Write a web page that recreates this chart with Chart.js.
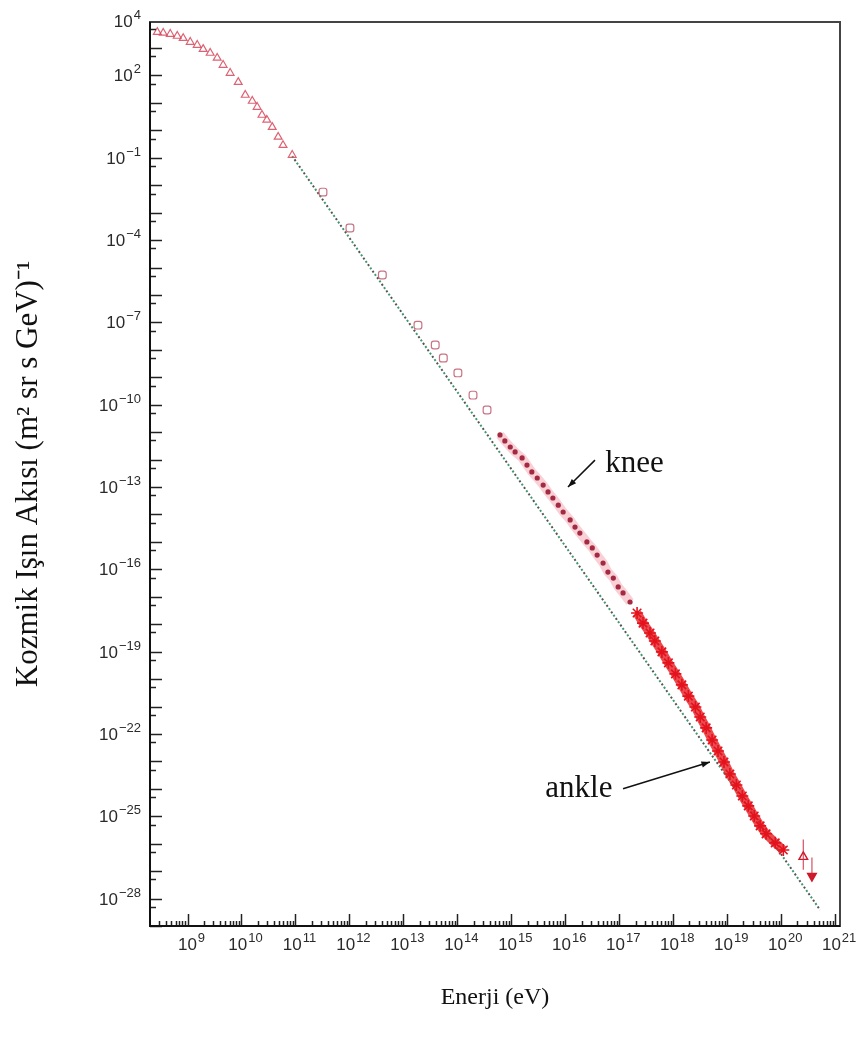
<!DOCTYPE html>
<html>
<head>
<meta charset="utf-8">
<script src="https://cdn.jsdelivr.net/npm/chart.js@4.4.1/dist/chart.umd.min.js"></script>
<style>
  html, body { margin: 0; padding: 0; background: #fff; }
  #wrap { width: 864px; height: 1046px; position: relative; }
</style>
</head>
<body>
<div id="wrap"><canvas id="spectrum"></canvas></div>
<script>
// values are log10(E / eV) and log10(flux / (m^2 sr s GeV)^-1)
const lowLogE = [8.44, 8.55, 8.68, 8.81, 8.92, 9.05, 9.18, 9.29, 9.42, 9.55, 9.66, 9.79, 9.94, 10.07, 10.20, 10.29, 10.38, 10.47, 10.57, 10.68, 10.77, 10.94];
const lowLogF = [3.58, 3.55, 3.51, 3.44, 3.36, 3.22, 3.11, 2.96, 2.82, 2.64, 2.38, 2.09, 1.76, 1.29, 1.07, 0.85, 0.56, 0.38, 0.12, -0.24, -0.54, -0.90];

const midLogE = [11.51, 12.01, 12.61, 13.27, 13.59, 13.74, 14.01, 14.29, 14.55];
const midLogF = [-2.25, -3.56, -5.27, -7.10, -7.82, -8.30, -8.84, -9.65, -10.19];

const kneeLogE = [14.79, 14.88, 14.98, 15.07, 15.20, 15.29, 15.38, 15.48, 15.59, 15.68, 15.77, 15.87, 15.96, 16.09, 16.18, 16.27, 16.40, 16.50, 16.59, 16.70, 16.79, 16.89, 16.98, 17.07, 17.20];
const kneeLogF = [-11.10, -11.32, -11.54, -11.72, -11.94, -12.20, -12.45, -12.67, -12.93, -13.18, -13.40, -13.66, -13.91, -14.20, -14.46, -14.68, -15.00, -15.22, -15.48, -15.77, -16.10, -16.32, -16.64, -16.86, -17.19];

const highLogE = [17.33, 17.44, 17.57, 17.66, 17.79, 17.91, 18.04, 18.16, 18.28, 18.41, 18.50, 18.61, 18.72, 18.83, 18.94, 19.05, 19.17, 19.28, 19.39, 19.50, 19.61, 19.72, 19.89, 20.04];
const highLogF = [-17.59, -17.96, -18.32, -18.61, -19.01, -19.41, -19.81, -20.21, -20.62, -21.02, -21.38, -21.78, -22.22, -22.62, -23.02, -23.46, -23.86, -24.26, -24.62, -24.99, -25.35, -25.64, -25.97, -26.23];

const tailLogE = [20.41, 20.57];
const tailLogF = [-26.48, -27.18];
const tailErrLo = [-26.95, -27.25];
const tailErrHi = [-25.85, -26.50];

// dotted power-law reference line (end points)
const fitLogE = [10.94, 20.72];
const fitLogF = [-0.94, -28.41];

const xTickExps = [9, 10, 11, 12, 13, 14, 15, 16, 17, 18, 19, 20, 21];
const yTickExps = [4, 2, -1, -4, -7, -10, -13, -16, -19, -22, -25, -28];

const xRange = [8.305, 21.09];
const yRange = [-29.0, 3.95];

function pts(le, lf) {
  return le.map(function (e, i) { return { x: Math.pow(10, e), y: Math.pow(10, lf[i]) }; });
}

const sansFont = "'Liberation Sans', Arial, sans-serif";
const serifFont = "'Liberation Serif', 'Times New Roman', serif";

function supText(ctx, base, exp, x, y, align) {
  ctx.font = "17px " + sansFont;
  const wb = ctx.measureText(base).width;
  ctx.font = "13px " + sansFont;
  const we = ctx.measureText(exp).width;
  const total = wb + 1 + we;
  let left = x;
  if (align === "center") left = x - total / 2;
  if (align === "right") left = x - total;
  ctx.textAlign = "left";
  ctx.textBaseline = "alphabetic";
  ctx.font = "17px " + sansFont;
  ctx.fillText(base, left, y);
  ctx.font = "13px " + sansFont;
  ctx.fillText(exp, left + wb + 1, y - 8);
}

function fmtExp(n) {
  return n < 0 ? "\u2212" + Math.abs(n) : String(n);
}

function arrow(ctx, x0, y0, x1, y1) {
  const ang = Math.atan2(y1 - y0, x1 - x0);
  ctx.beginPath();
  ctx.moveTo(x0, y0);
  ctx.lineTo(x1, y1);
  ctx.stroke();
  ctx.beginPath();
  ctx.moveTo(x1, y1);
  ctx.lineTo(x1 - 9 * Math.cos(ang - 0.35), y1 - 9 * Math.sin(ang - 0.35));
  ctx.lineTo(x1 - 9 * Math.cos(ang + 0.35), y1 - 9 * Math.sin(ang + 0.35));
  ctx.closePath();
  ctx.fill();
}

const framePlugin = {
  id: "frameAndTicks",
  afterDatasetsDraw(chart) {
    const ctx = chart.ctx;
    const a = chart.chartArea;
    const xs = chart.scales.x;
    const ys = chart.scales.y;
    ctx.save();

    // error bars on the last points
    ctx.strokeStyle = "rgba(200,40,60,0.8)";
    ctx.lineWidth = 1.2;
    tailLogE.forEach(function (e, i) {
      const px = xs.getPixelForValue(Math.pow(10, e));
      ctx.beginPath();
      ctx.moveTo(px, ys.getPixelForValue(Math.pow(10, tailErrLo[i])));
      ctx.lineTo(px, ys.getPixelForValue(Math.pow(10, tailErrHi[i])));
      ctx.stroke();
    });

    // inward ticks
    ctx.strokeStyle = "#222";
    ctx.lineWidth = 1.5;
    for (let n = 8; n <= 21; n++) {
      for (let k = 1; k <= 9; k++) {
        const v = k * Math.pow(10, n);
        if (v < xs.min || v > xs.max) continue;
        const px = Math.round(xs.getPixelForValue(v)) + 0.5;
        const len = k === 1 ? 12 : 5;
        ctx.beginPath();
        ctx.moveTo(px, a.bottom);
        ctx.lineTo(px, a.bottom - len);
        ctx.stroke();
      }
    }
    for (let n = -29; n <= 4; n++) {
      [[1, 12], [5, 6]].forEach(function (t) {
        const v = t[0] * Math.pow(10, n - (t[0] === 5 ? 1 : 0));
        if (v < ys.min || v > ys.max) return;
        const py = Math.round(ys.getPixelForValue(v)) + 0.5;
        ctx.beginPath();
        ctx.moveTo(a.left, py);
        ctx.lineTo(a.left + t[1], py);
        ctx.stroke();
      });
    }

    // frame
    ctx.strokeStyle = "#444";
    ctx.lineWidth = 2;
    ctx.strokeRect(a.left, a.top, a.right - a.left, a.bottom - a.top);
    ctx.strokeStyle = "#111";
    ctx.beginPath();
    ctx.moveTo(a.left, a.top);
    ctx.lineTo(a.left, a.bottom);
    ctx.lineTo(a.right, a.bottom);
    ctx.stroke();

    // tick labels
    ctx.fillStyle = "#2a2a2a";
    xTickExps.forEach(function (n) {
      const px = xs.getPixelForValue(Math.pow(10, n));
      supText(ctx, "10", fmtExp(n), px + 4, a.bottom + 24, "center");
    });
    yTickExps.forEach(function (n) {
      const py = ys.getPixelForValue(Math.pow(10, n));
      supText(ctx, "10", fmtExp(n), a.left - 9, py + 6, "right");
    });

    // annotations
    ctx.fillStyle = "#111";
    ctx.strokeStyle = "#111";
    ctx.lineWidth = 1.5;
    ctx.font = "31px " + serifFont;
    ctx.textAlign = "left";
    ctx.textBaseline = "alphabetic";
    ctx.fillText("knee", xs.getPixelForValue(Math.pow(10, 16.74)), ys.getPixelForValue(Math.pow(10, -12.45)));
    ctx.fillText("ankle", xs.getPixelForValue(Math.pow(10, 15.63)), ys.getPixelForValue(Math.pow(10, -24.30)));
    arrow(ctx,
      xs.getPixelForValue(Math.pow(10, 16.55)), ys.getPixelForValue(Math.pow(10, -12.02)),
      xs.getPixelForValue(Math.pow(10, 16.05)), ys.getPixelForValue(Math.pow(10, -13.00)));
    arrow(ctx,
      xs.getPixelForValue(Math.pow(10, 17.07)), ys.getPixelForValue(Math.pow(10, -24.00)),
      xs.getPixelForValue(Math.pow(10, 18.68)), ys.getPixelForValue(Math.pow(10, -23.02)));
    ctx.restore();
  }
};

const ctx = document.getElementById("spectrum").getContext("2d");
const spectrumChart = new Chart(ctx, {
  type: "scatter",
  data: {
    datasets: [
      {
        label: "low",
        data: pts(lowLogE, lowLogF),
        pointStyle: "triangle",
        pointRadius: 4.5,
        borderWidth: 1.2,
        borderColor: "rgba(215,70,90,0.85)",
        backgroundColor: "rgba(0,0,0,0)",
        order: 1
      },
      {
        label: "mid",
        data: pts(midLogE, midLogF),
        pointStyle: "rectRounded",
        pointRadius: 4.5,
        borderWidth: 1.2,
        borderColor: "rgba(190,90,110,0.85)",
        backgroundColor: "rgba(0,0,0,0)",
        order: 1
      },
      {
        label: "knee",
        data: pts(kneeLogE, kneeLogF),
        pointStyle: "circle",
        pointRadius: 2.6,
        borderWidth: 0,
        backgroundColor: "#a32a40",
        order: 1
      },
      {
        label: "knee band",
        type: "line",
        data: pts(kneeLogE, kneeLogF),
        showLine: true,
        pointRadius: 0,
        borderWidth: 9,
        borderColor: "rgba(240,150,165,0.45)",
        order: 5
      },
      {
        label: "high",
        data: pts(highLogE, highLogF),
        pointStyle: "star",
        pointRadius: 6,
        borderWidth: 1.6,
        borderColor: "#e3121c",
        backgroundColor: "#e3121c",
        order: 1
      },
      {
        label: "high band",
        type: "line",
        data: pts(highLogE, highLogF),
        showLine: true,
        pointRadius: 0,
        borderWidth: 9,
        borderColor: "rgba(230,30,35,0.8)",
        order: 5
      },
      {
        label: "tail",
        data: pts(tailLogE, tailLogF),
        pointStyle: "triangle",
        rotation: [0, 180],
        pointRadius: 5,
        borderWidth: 1.4,
        borderColor: "#d01828",
        backgroundColor: ["rgba(0,0,0,0)", "#d01828"],
        order: 1
      },
      {
        label: "fit",
        type: "line",
        data: pts(fitLogE, fitLogF),
        showLine: true,
        pointRadius: 0,
        borderWidth: 2,
        borderColor: "#3f9a6e",
        borderDash: [2, 6],
        order: 8
      },
      {
        label: "fit dark",
        type: "line",
        data: pts(fitLogE, fitLogF),
        showLine: true,
        pointRadius: 0,
        borderWidth: 2,
        borderColor: "#555",
        borderDash: [2, 6],
        borderDashOffset: 4,
        order: 8
      }
    ]
  },
  options: {
    responsive: true,
    maintainAspectRatio: false,
    animation: false,
    devicePixelRatio: 1,
    layout: { padding: { top: 22, right: 24, left: 0, bottom: 0 } },
    plugins: {
      legend: { display: false },
      tooltip: { enabled: false }
    },
    scales: {
      x: {
        type: "logarithmic",
        min: Math.pow(10, xRange[0]),
        max: Math.pow(10, xRange[1]),
        grid: { display: false },
        border: { display: false },
        ticks: { display: false },
        title: {
          display: true,
          text: "Enerji (eV)",
          color: "#111",
          font: { family: serifFont, size: 24 },
          padding: { top: 0, bottom: 34 }
        },
        afterFit: function (s) { s.height = 120; }
      },
      y: {
        type: "logarithmic",
        min: Math.pow(10, yRange[0]),
        max: Math.pow(10, yRange[1]),
        grid: { display: false },
        border: { display: false },
        ticks: { display: false },
        title: {
          display: true,
          text: "Kozmik Işın Akısı (m² sr s GeV)⁻¹",
          color: "#111",
          font: { family: serifFont, size: 31 },
          padding: { top: 10, bottom: 0 }
        },
        afterFit: function (s) { s.width = 150; }
      }
    }
  },
  plugins: [framePlugin]
});
</script>
</body>
</html>
